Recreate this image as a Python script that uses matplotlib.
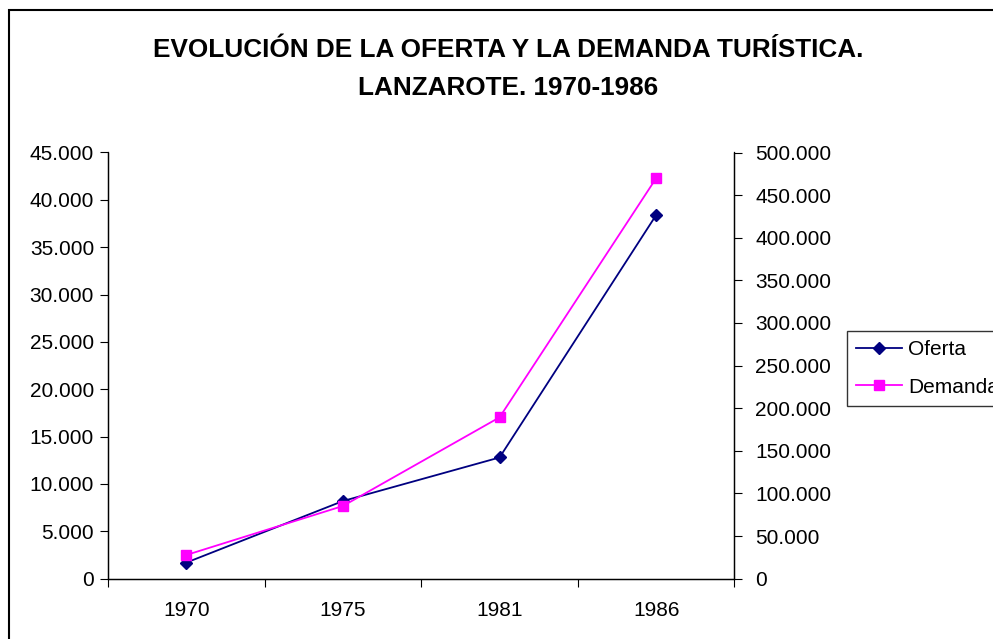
import matplotlib
matplotlib.use("Agg")
import matplotlib.pyplot as plt
from matplotlib.patches import Rectangle
from matplotlib.ticker import FuncFormatter, MultipleLocator, FixedLocator

plt.rcParams['font.family'] = ['Liberation Sans', 'DejaVu Sans']

# datos
anios = ['1970', '1975', '1981', '1986']
oferta = [1700, 8200, 12800, 38400]
demanda = [27800, 85300, 189300, 469900]

titulo_1 = 'EVOLUCIÓN DE LA OFERTA Y LA DEMANDA TURÍSTICA.'
titulo_2 = 'LANZAROTE. 1970-1986'


def miles(v, pos):
    return '{:,}'.format(int(round(v))).replace(',', '.')


fig = plt.figure(figsize=(9.93, 6.39), dpi=100)
ax = fig.add_axes([108 / 993, 1 - 578.7 / 639, (734.5 - 108) / 993, (578.7 - 152.5) / 639])
ax2 = ax.twinx()

x = list(range(len(anios)))
l1, = ax.plot(x, oferta, color='#000080', marker='D', markersize=6.5, lw=1.3, label='Oferta')
l2, = ax2.plot(x, demanda, color='#FF00FF', marker='s', markersize=6.5, lw=1.3, label='Demanda')

ax.set_xlim(-0.5, len(anios) - 0.5)
ax.set_ylim(0, 45000)
ax2.set_ylim(0, 500000)
ax.yaxis.set_major_locator(MultipleLocator(5000))
ax2.yaxis.set_major_locator(MultipleLocator(50000))
ax.yaxis.set_major_formatter(FuncFormatter(miles))
ax2.yaxis.set_major_formatter(FuncFormatter(miles))

ax.set_xticks(x)
ax.set_xticklabels(anios)
ax.xaxis.set_minor_locator(FixedLocator([i - 0.5 for i in range(len(anios) + 1)]))
ax.tick_params(axis='x', which='major', length=0, pad=16, labelsize=15)
ax.tick_params(axis='x', which='minor', length=6, width=0.8, direction='out')
ax.tick_params(axis='y', length=6, width=0.8, pad=4, labelsize=15)
ax2.tick_params(axis='y', length=6, width=0.8, pad=9, labelsize=15)

for a in (ax, ax2):
    a.spines['top'].set_visible(False)
    for s in ('left', 'right', 'bottom'):
        a.spines[s].set_linewidth(0.9)

# titulo
fig.text(508 / 993, 1 - 56.7 / 639, titulo_1, ha='center', va='baseline',
         fontsize=18.8, fontweight='bold')
fig.text(508 / 993, 1 - 95 / 639, titulo_2, ha='center', va='baseline',
         fontsize=18.8, fontweight='bold')

# leyenda
leg = fig.legend([l1, l2], ['Oferta', 'Demanda'], loc='upper left',
                 bbox_to_anchor=(847 / 993, 1 - 331 / 639), borderaxespad=0,
                 fontsize=15, frameon=True, fancybox=False, handlelength=2.2,
                 handletextpad=0.3, labelspacing=0.88, borderpad=0.45)
leg.get_frame().set_edgecolor('black')
leg.get_frame().set_linewidth(1.0)

# marco del grafico
fig.patches.append(Rectangle((9 / 993, -0.1), 1.2, 1.1 - 9.5 / 639, transform=fig.transFigure,
                             fill=False, edgecolor='black', linewidth=1.5))

fig.savefig('out.png', dpi=100)
